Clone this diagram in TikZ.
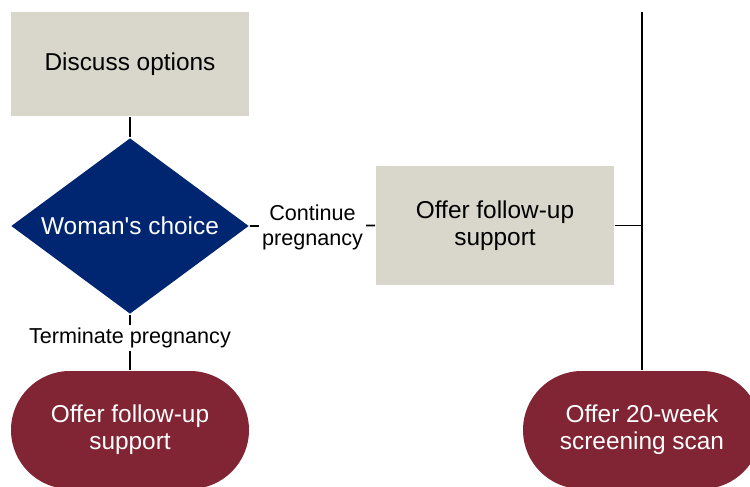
\documentclass[tikz,border=0pt]{standalone}
\usepackage{fontspec}
\setmainfont{Liberation Sans}
\usetikzlibrary{shapes.geometric}
\definecolor{boxgrey}{HTML}{D9D7CB}
\definecolor{choiceblue}{HTML}{002672}
\definecolor{offerred}{HTML}{812434}

\begin{document}
\begin{tikzpicture}[x=0.5pt,y=-0.5pt,line width=0.9pt,
    greybox/.style={rectangle,fill=boxgrey,minimum width=119pt,align=center,
      font=\fontsize{12.2}{13.6}\selectfont},
    offer/.style={rectangle,rounded corners=29.5pt,fill=offerred,text=white,
      minimum width=119pt,minimum height=59pt,align=center,
      font=\fontsize{12.2}{13.6}\selectfont},
    choicelabel/.style={fill=white,inner sep=1.5pt,align=center,
      font=\fontsize{10.8}{12.4}\selectfont}] % 750 x 487 px
  \clip (0,0) rectangle (750,487);
  \node[greybox,minimum height=52pt] (discuss) at (130,64) {Discuss options};
  \node[diamond,shape aspect=1.35,fill=choiceblue,text=white,minimum width=119pt,
    minimum height=88pt,inner sep=0pt,font=\fontsize{12.2}{13.6}\selectfont]
    (choice) at (130,226) {Woman\textquotesingle s choice};
  \node[greybox,minimum height=59.5pt] (contsupp) at (495,225.5) {Offer follow-up\\support};
  \node[offer] (termsupp) at (130,430) {Offer follow-up\\support};
  \node[offer] (scan) at (642,430) {Offer 20-week\\screening scan};
  \coordinate (scantop) at (642,12);
  \draw (discuss.south) -- (choice.north);
  \draw (choice.east) -- node[choicelabel,yshift=-1pt] {Continue\\pregnancy} (contsupp.west);
  \draw (choice.south) -- node[choicelabel,pos=0.42] {Terminate pregnancy} (termsupp.north);
  \draw (scantop) -- (scan.north);
  \draw (contsupp.east) -- (contsupp.east -| scan.north);
\end{tikzpicture}
\end{document}
